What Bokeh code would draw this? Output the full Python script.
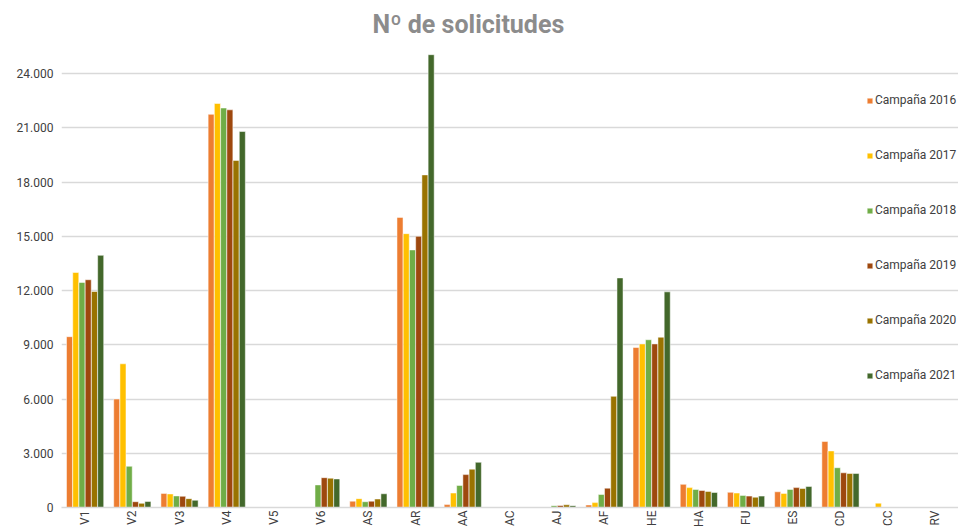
from bokeh.plotting import figure
from bokeh.models import FactorRange, Range1d, FixedTicker, CustomJSTickFormatter, Legend, LegendItem
from bokeh.transform import dodge
from bokeh.embed import file_html
from bokeh.resources import INLINE

categories = ["V1", "V2", "V3", "V4", "V5", "V6", "AS", "AR", "AA", "AC",
              "AJ", "AF", "HE", "HA", "FU", "ES", "CD", "CC", "RV"]
series_names = ["Campaña 2016", "Campaña 2017", "Campaña 2018",
                "Campaña 2019", "Campaña 2020", "Campaña 2021"]
c2016 = [9450, 6000, 780, 21750, 0, 0, 350, 16050, 160, 0, 0, 140, 8850, 1280, 840, 870, 3650, 0, 0]
c2017 = [13000, 7950, 750, 22350, 0, 0, 490, 15150, 800, 0, 0, 270, 9050, 1100, 800, 780, 3130, 240, 0]
c2018 = [12450, 2280, 640, 22100, 0, 1250, 320, 14250, 1220, 0, 100, 720, 9280, 1000, 670, 1000, 2200, 15, 0]
c2019 = [12600, 320, 620, 22000, 0, 1650, 350, 15000, 1820, 0, 110, 1070, 9050, 940, 630, 1100, 1920, 15, 0]
c2020 = [11950, 230, 490, 19200, 0, 1620, 470, 18400, 2120, 0, 150, 6150, 9420, 890, 570, 1050, 1880, 15, 0]
c2021 = [13950, 330, 400, 20800, 0, 1580, 760, 25050, 2500, 0, 100, 12700, 11930, 830, 630, 1160, 1880, 15, 0]
series = [c2016, c2017, c2018, c2019, c2020, c2021]
colors = ["#ED7D31", "#FFC000", "#70AD47", "#9E480E", "#997300", "#43682B"]
y_ticks = [0, 3000, 6000, 9000, 12000, 15000, 18000, 21000, 24000]

p = figure(width=958, height=529, x_range=FactorRange(*categories),
           y_range=Range1d(0, 25780), output_backend="svg", toolbar_location=None,
           min_border_left=61, min_border_right=0, min_border_top=41, min_border_bottom=0)

p.title.text = "Nº de solicitudes"
p.title.text_font = "Roboto"
p.title.text_font_size = "25px"
p.title.text_color = "#8C8C8C"
p.title.text_font_style = "bold"
p.title.align = "left"
p.title.offset = 311
p.title.standoff = 5

p.outline_line_color = None
p.xgrid.grid_line_color = None
p.ygrid.grid_line_color = "#D9D9D9"
p.ygrid.grid_line_width = 1.5
p.yaxis.ticker = FixedTicker(ticks=y_ticks)
p.yaxis.formatter = CustomJSTickFormatter(code="""
return String(Math.round(tick)).replace(/\\B(?=(\\d{3})+(?!\\d))/g, '.');
""")
p.yaxis.axis_line_color = None
p.yaxis.major_tick_line_color = None
p.yaxis.minor_tick_line_color = None
p.yaxis.major_tick_out = 0
p.yaxis.major_tick_in = 0
p.yaxis.minor_tick_out = 0
p.yaxis.major_label_text_font = "Roboto"
p.yaxis.major_label_text_font_size = "12px"
p.yaxis.major_label_text_color = "#404040"
p.yaxis.major_label_standoff = 8

p.xaxis.axis_line_color = "#D9D9D9"
p.xaxis.axis_line_width = 1.5
p.xaxis.major_tick_line_color = None
p.xaxis.minor_tick_line_color = None
p.xaxis.major_tick_out = 0
p.xaxis.major_tick_in = 0
p.xaxis.minor_tick_out = 0
p.xaxis.axis_label = None
p.xaxis.axis_label_standoff = 0
p.xaxis.major_label_orientation = 1.5708
p.xaxis.major_label_text_font = "Roboto"
p.xaxis.major_label_text_font_size = "12px"
p.xaxis.major_label_text_color = "#404040"
p.xaxis.major_label_standoff = 3

data = {"cat": categories}
for i, s in enumerate(series):
    data["s%d" % i] = s

items = []
step = 0.132
for i, (name, col) in enumerate(zip(series_names, colors)):
    r = p.vbar(x=dodge("cat", (i - 2.5) * step, range=p.x_range), top="s%d" % i,
               width=0.128, source=data, fill_color=col, line_color="white",
               line_width=0.5)
    items.append(LegendItem(label=name, renderers=[r]))

legend = Legend(items=items, location=(805, 125), orientation="vertical",
                glyph_width=7, glyph_height=7, label_height=12, spacing=41,
                label_standoff=2, padding=0, margin=0,
                label_text_font="Roboto", label_text_font_size="12px",
                label_text_color="#404040", border_line_color=None,
                background_fill_alpha=0)
p.add_layout(legend, "center")

open("out.html", "w").write(file_html(p, INLINE))
